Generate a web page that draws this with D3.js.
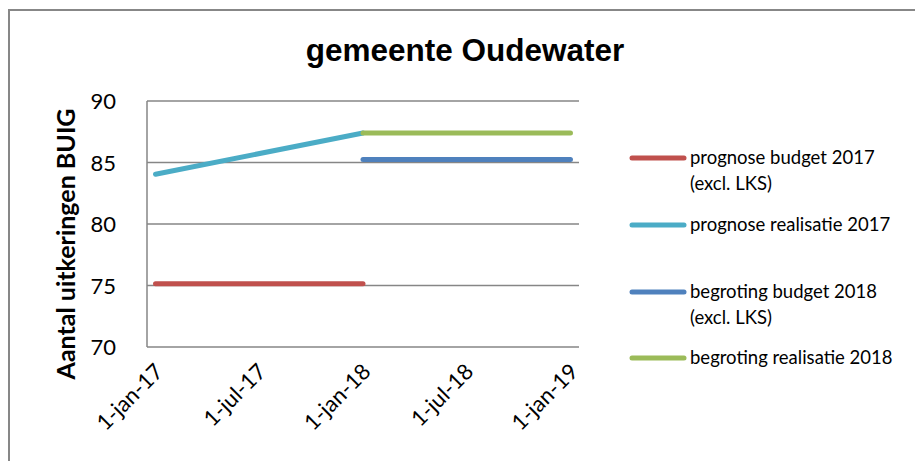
<!DOCTYPE html>
<html>
<head>
<meta charset="utf-8">
<script src="https://cdn.jsdelivr.net/npm/d3@7"></script>
<style>
  body { margin: 0; background: #fff; }
  text { font-family: Lato, "Open Sans", sans-serif; fill: #000; }
</style>
</head>
<body>
<svg id="chart" width="915" height="461"></svg>
<script>
// data
var tickDates = ["2017-01-01", "2017-07-01", "2018-01-01", "2018-07-01", "2019-01-01"];
var tickLabels = ["1-jan-17", "1-jul-17", "1-jan-18", "1-jul-18", "1-jan-19"];
var yTicks = [70, 75, 80, 85, 90];

var seriesNames = ["prognose budget 2017|(excl. LKS)", "prognose realisatie 2017", "begroting budget 2018|(excl. LKS)", "begroting realisatie 2018"];
var seriesColors = ["#C0504D", "#4BACC6", "#4F81BD", "#9BBB59"];
var budget2017 = [["2017-01-01", 75.15], ["2018-01-01", 75.15]];
var realisatie2017 = [["2017-01-01", 84.05], ["2018-01-01", 87.4]];
var budget2018 = [["2018-01-01", 85.25], ["2019-01-01", 85.25]];
var realisatie2018 = [["2018-01-01", 87.4], ["2019-01-01", 87.4]];
var allSeries = [budget2017, realisatie2017, budget2018, realisatie2018];

var parse = d3.utcParse("%Y-%m-%d");

var svg = d3.select("#chart");

// outer chart border
svg.append("rect")
    .attr("x", 9).attr("y", 10)
    .attr("width", 930).attr("height", 470)
    .attr("fill", "none")
    .attr("stroke", "#878787")
    .attr("stroke-width", 2);

var x = d3.scaleUtc()
    .domain([parse("2016-12-17"), parse("2019-01-16")])
    .range([147, 579]);

var y = d3.scaleLinear()
    .domain([70, 90])
    .range([347, 101]);

// gridlines
svg.append("g").selectAll("line")
  .data(yTicks)
  .enter().append("line")
    .attr("x1", x.range()[0])
    .attr("x2", x.range()[1])
    .attr("y1", d => y(d))
    .attr("y2", d => y(d))
    .attr("stroke", "#868686")
    .attr("stroke-width", 1.5);

// y axis line
svg.append("line")
    .attr("x1", 147).attr("x2", 147)
    .attr("y1", y(90)).attr("y2", y(70))
    .attr("stroke", "#868686")
    .attr("stroke-width", 1.5);

// y tick labels
svg.append("g").selectAll("text")
  .data(yTicks)
  .enter().append("text")
    .attr("x", 116)
    .attr("y", d => y(d) + 8)
    .attr("text-anchor", "end")
    .style("font-size", "22px")
    .text(d => d);

// x tick labels
svg.append("g").selectAll("text")
  .data(tickDates)
  .enter().append("text")
    .attr("transform", d => "translate(" + (x(parse(d)) + 9) + ",373) rotate(-45)")
    .attr("text-anchor", "end")
    .style("font-size", "22px")
    .text((d, i) => tickLabels[i]);

// y axis title
svg.append("text")
    .attr("transform", "translate(75,244) rotate(-90)")
    .attr("text-anchor", "middle")
    .style("font-size", "25px")
    .style("font-weight", "bold")
    .text("Aantal uitkeringen BUIG");

// chart title
svg.append("text")
    .attr("x", 465)
    .attr("y", 61)
    .attr("text-anchor", "middle")
    .style("font-family", "'Liberation Sans', Arial, sans-serif")
    .style("font-size", "31.5px")
    .style("font-weight", "bold")
    .text("gemeente Oudewater");

// series lines
var line = d3.line()
    .x(d => x(parse(d[0])))
    .y(d => y(d[1]));

svg.append("g").selectAll("path")
  .data(allSeries)
  .enter().append("path")
    .attr("d", line)
    .attr("fill", "none")
    .attr("stroke", (d, i) => seriesColors[i])
    .attr("stroke-width", 5)
    .attr("stroke-linecap", "round");

// legend
var legendY = [158, 225, 292, 358];
var legend = svg.append("g").selectAll("g")
  .data(seriesNames)
  .enter().append("g")
    .attr("transform", (d, i) => "translate(0," + legendY[i] + ")");

legend.append("line")
    .attr("x1", 632).attr("x2", 684)
    .attr("stroke", (d, i) => seriesColors[i])
    .attr("stroke-width", 5)
    .attr("stroke-linecap", "round");

legend.append("text")
    .attr("x", 690)
    .attr("y", 6)
    .style("font-size", "18.5px")
    .selectAll("tspan")
    .data(d => d.split("|"))
    .enter().append("tspan")
      .attr("x", 690)
      .attr("dy", (d, i) => i ? 26 : 0)
      .text(d => d);
</script>
</body>
</html>
